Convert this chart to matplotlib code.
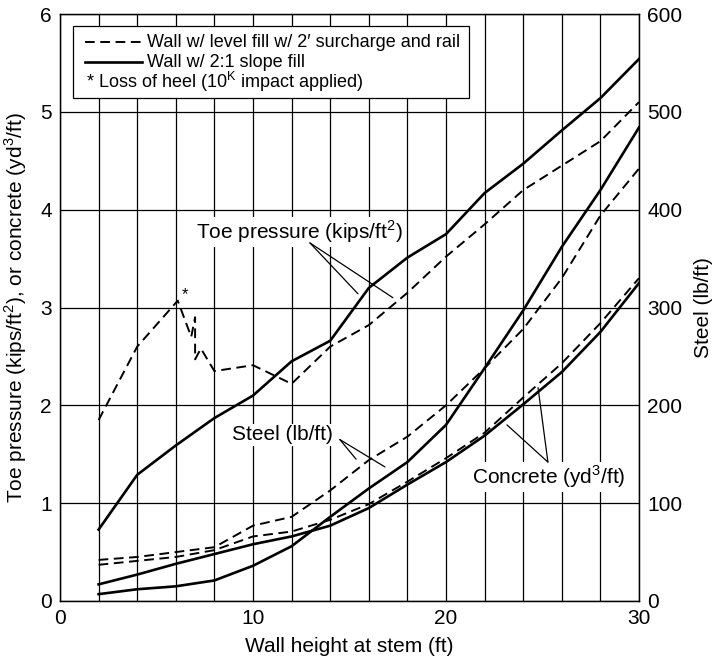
"""Toe pressure, steel and concrete quantities vs. wall height at stem."""

import matplotlib

matplotlib.use("Agg")
import matplotlib.pyplot as plt
from matplotlib.patches import Rectangle

plt.rcParams["font.family"] = ["Liberation Sans", "DejaVu Sans"]
plt.rcParams["mathtext.fontset"] = "custom"
plt.rcParams["mathtext.rm"] = "Liberation Sans"
plt.rcParams["lines.scale_dashes"] = False

# wall heights (ft)
heights = [2, 4, 6, 8, 10, 12, 14, 16, 18, 20, 22, 24, 26, 28, 30]

# toe pressure (kips/ft^2)
toe_slope = [0.73, 1.29, 1.59, 1.87, 2.10, 2.45, 2.66, 3.20, 3.51, 3.75,
             4.17, 4.47, 4.81, 5.14, 5.54]
toe_level_x = [2, 4, 6.1, 6.8, 7.0, 7.0, 7.3, 8, 10, 12, 14, 16, 18, 20,
               22, 24, 26, 28, 30]
toe_level = [1.85, 2.60, 3.07, 2.70, 2.90, 2.47, 2.58, 2.35, 2.41, 2.22,
             2.60, 2.82, 3.15, 3.52, 3.85, 4.20, 4.45, 4.70, 5.10]

# concrete (yd^3/ft)
concrete_slope = [0.17, 0.27, 0.38, 0.48, 0.58, 0.66, 0.77, 0.95, 1.19, 1.42,
                  1.69, 2.01, 2.34, 2.75, 3.25]
concrete_level = [0.37, 0.41, 0.45, 0.52, 0.66, 0.71, 0.83, 0.99, 1.22, 1.46,
                  1.72, 2.08, 2.43, 2.84, 3.30]

# steel (lb/ft)
steel_slope = [7, 12, 15, 21, 36, 56, 86, 115, 142, 180, 238, 297, 362, 420, 484]
steel_level = [42, 45, 50, 55, 77, 86, 113, 144, 168, 200, 238, 278, 330, 394, 442]

DASH = (0, (7, 4))
FS = 15

fig = plt.figure(figsize=(7.17, 6.6), dpi=100)
ax = fig.add_axes([60 / 717, 59 / 660, 579 / 717, 587 / 660])
ax2 = ax.twinx()

ax.set_xlim(0, 30)
ax.set_ylim(0, 6)
ax2.set_ylim(0, 600)

ax.set_xticks(range(0, 31, 2), minor=True)
ax.set_xticks([0, 10, 20, 30])
ax.set_yticks(range(0, 7))
ax2.set_yticks(range(0, 601, 100))
ax.grid(True, which="both", color="black", linewidth=0.9)
ax.set_axisbelow(True)
for a in (ax, ax2):
    a.tick_params(which="both", length=0, labelsize=FS, pad=6)
    for spine in a.spines.values():
        spine.set_linewidth(0.9)

ax.plot(heights, toe_slope, color="black", lw=1.9, zorder=3)
ax.plot(toe_level_x, toe_level, color="black", lw=1.4, linestyle=DASH, zorder=3)
ax.plot(heights, concrete_slope, color="black", lw=1.9, zorder=3)
ax.plot(heights, concrete_level, color="black", lw=1.4, linestyle=DASH, zorder=3)
ax2.plot(heights, steel_slope, color="black", lw=1.9)
ax2.plot(heights, steel_level, color="black", lw=1.4, linestyle=DASH)

ax.text(6.5, 3.13, "*", fontsize=12, ha="center", va="center")

ax.set_xlabel("Wall height at stem (ft)", fontsize=FS, labelpad=6)
ax.set_ylabel(r"Toe pressure (kips/ft$^2$), or concrete (yd$^3$/ft)",
              fontsize=FS, labelpad=8)
ax2.set_ylabel("Steel (lb/ft)", fontsize=FS, labelpad=8)

# curve labels with leader lines
box = dict(facecolor="white", edgecolor="none", pad=1)
leader = dict(arrowstyle="-", color="black", lw=0.9, shrinkA=0, shrinkB=0)

ax.text(12.43, 3.77, r"Toe pressure (kips/ft$^2$)", fontsize=FS, ha="center",
        va="center", bbox=box, zorder=4)
for target in [(15.44, 3.14), (17.25, 3.10)]:
    ax.annotate("", xy=target, xytext=(12.95, 3.66), arrowprops=leader, zorder=4)

ax.text(11.55, 1.70, "Steel (lb/ft)", fontsize=FS, ha="center", va="center",
        bbox=box, zorder=4)
for target in [(15.34, 1.45), (16.84, 1.37)]:
    ax.annotate("", xy=target, xytext=(14.5, 1.65), arrowprops=leader, zorder=4)

ax.text(25.34, 1.27, r"Concrete (yd$^3$/ft)", fontsize=FS, ha="center",
        va="center", bbox=box, zorder=4)
for target in [(23.16, 1.80), (24.77, 2.18)]:
    ax.annotate("", xy=target, xytext=(25.28, 1.42), arrowprops=leader, zorder=4)

# legend box
ax.add_patch(Rectangle((0.022, 0.857), 0.684, 0.123, transform=ax.transAxes,
                       facecolor="white", edgecolor="black", lw=0.9, zorder=5))
ax.plot([0.043, 0.142], [0.952, 0.952], transform=ax.transAxes, color="black",
        lw=1.4, linestyle=DASH, zorder=6)
ax.plot([0.043, 0.142], [0.918, 0.918], transform=ax.transAxes, color="black",
        lw=1.9, zorder=6)
ax.text(0.150, 0.952, "Wall w/ level fill w/ 2′ surcharge and rail",
        transform=ax.transAxes, fontsize=13, va="center", zorder=6)
ax.text(0.150, 0.918, "Wall w/ 2:1 slope fill", transform=ax.transAxes,
        fontsize=13, va="center", zorder=6)
ax.text(0.045, 0.884, r"* Loss of heel (10$^\mathrm{K}$ impact applied)",
        transform=ax.transAxes, fontsize=13, va="center", zorder=6)

fig.savefig("out.png", dpi=100)
